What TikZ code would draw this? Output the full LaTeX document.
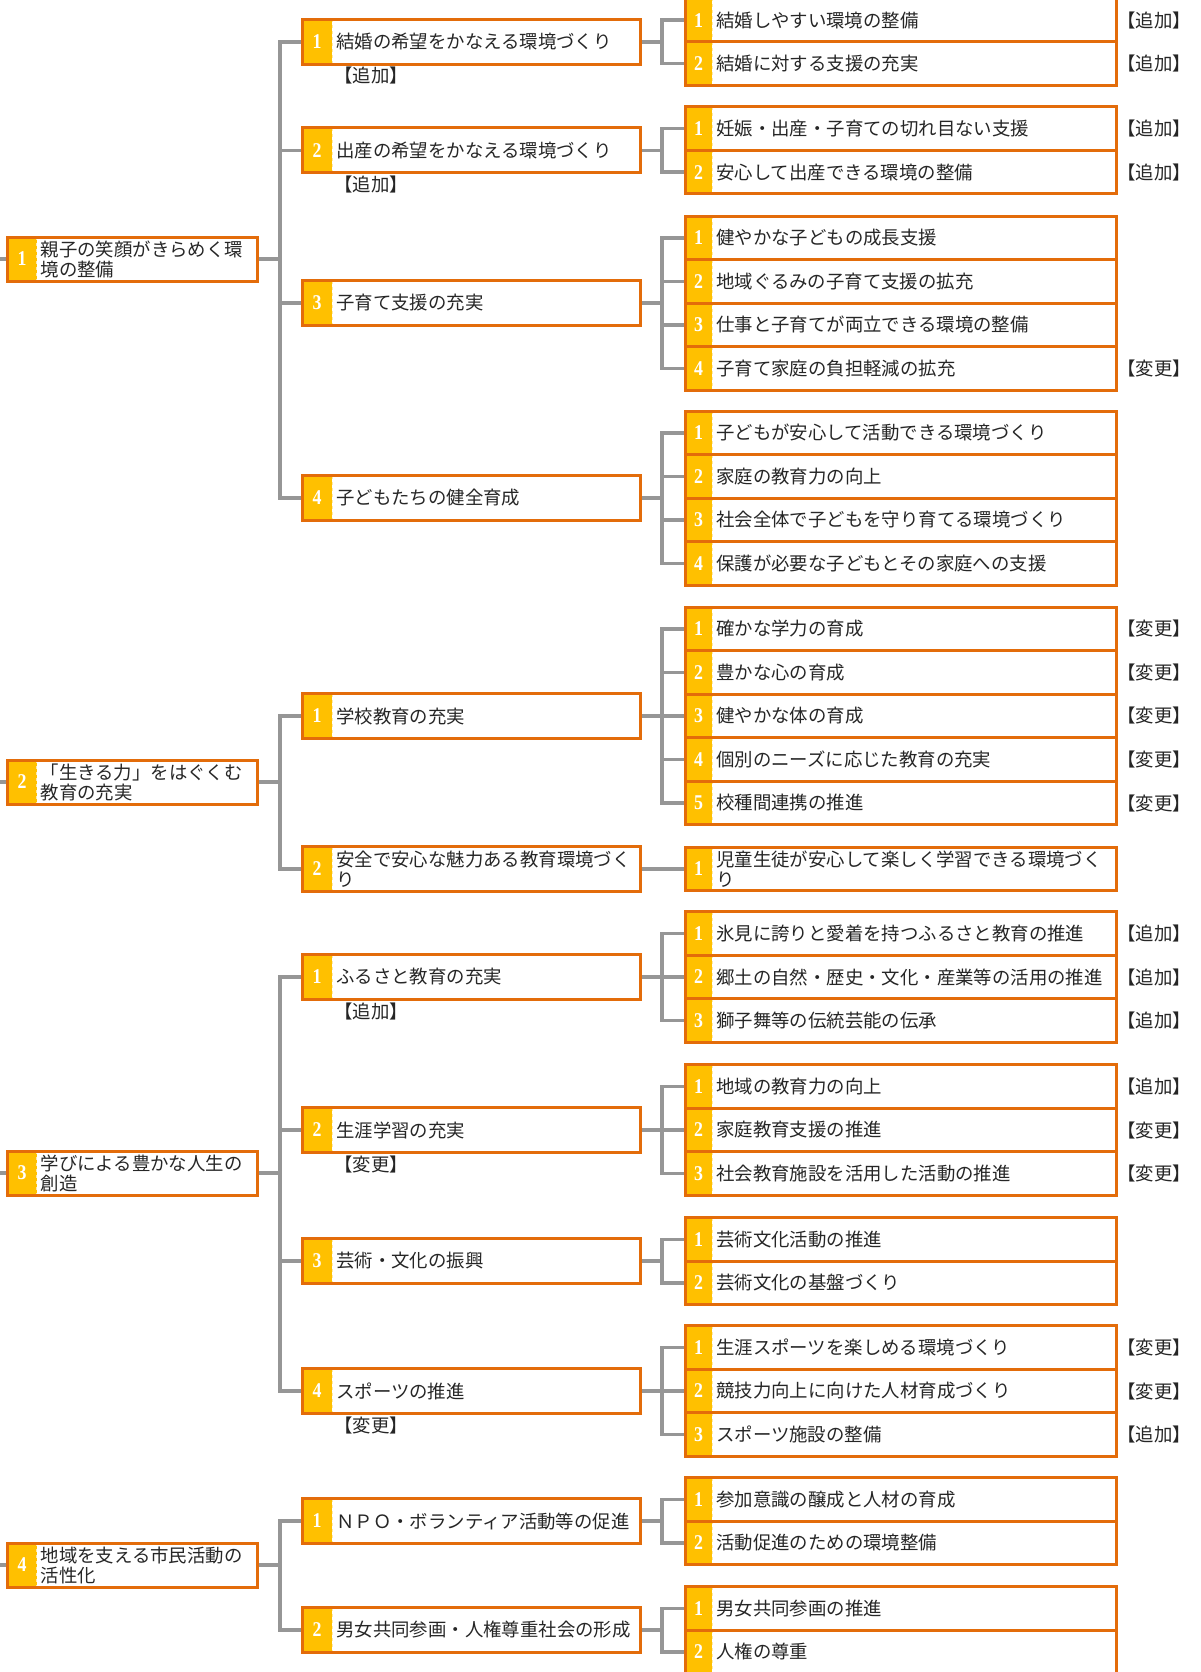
\documentclass[tikz,border=0pt]{standalone}
\usepackage{fontspec}
\setmainfont{Noto Sans CJK JP}
\newfontfamily\numf{Liberation Serif}
\usetikzlibrary{backgrounds}
\definecolor{goldC}{HTML}{FFC000}
\definecolor{orangeC}{HTML}{E36C0A}
\definecolor{grayC}{HTML}{969696}
\definecolor{txtC}{HTML}{262626}
\definecolor{divC}{HTML}{FFE9A8}
\tikzset{
  boxbg/.style={rectangle, fill=white, inner sep=0pt, outer sep=0pt},
  numcell/.style={rectangle, fill=goldC, inner sep=0pt, outer sep=0pt, text=white, font=\numf\bfseries\fontsize{21}{21}\selectfont},
  frame/.style={draw=orangeC, line width=3pt},
  divider/.style={draw=divC, line width=0.8pt, dashed},
  txt/.style={inner sep=0pt, align=left, text=txtC, font=\fontsize{18.4}{20}\selectfont},
  tagtxt/.style={inner sep=0pt, text=txtC, font=\fontsize{18.4}{20}\selectfont},
  conn/.style={draw=grayC, line width=3.5pt},
}
% name, xleft, width, ycenter, height, cellwidth, number, text
\newcommand\mkbox[8]{%
  \node[boxbg, minimum width=#3pt, minimum height=#5pt, anchor=west] (#1) at (#2,#4) {};
  \node[numcell, minimum width=#6pt, minimum height=#5pt, anchor=west] (#1n) at (#1.west) {\scalebox{0.85}[1]{#7}};
  \draw[divider] (#1n.north east) -- (#1n.south east);
  \node[txt, anchor=west] (#1t) at ([xshift=4pt]#1n.east) {#8};
  \draw[frame] (#1.north west) rectangle (#1.south east);
}
\newcommand\lvone[4]{\mkbox{#1}{7.5}{249.5}{#2}{44}{29}{#3}{#4}}
\newcommand\lvtwo[4]{\mkbox{#1}{302}{338}{#2}{45}{30}{#3}{#4}}
\newcommand\lvthree[4]{\mkbox{#1}{685}{431}{#2}{43.5}{27}{#3}{#4}}
\newcommand\tagtwo[3]{\node[tagtxt] (#1) at (371,#2) {#3};}
\newcommand\tagthree[3]{\node[tagtxt] (#1) at (1154,#2) {#3};}
\begin{document}
\begin{tikzpicture}[x=1pt, y=-1pt]
\useasboundingbox (0,0) rectangle (1200,1672);
\coordinate (T1) at (280,0);
\coordinate (T2) at (662,0);
% ---------- level 1 ----------
\lvone{A}{259}{1}{親子の笑顔がきらめく環\\境の整備}
\lvone{B}{782}{2}{「生きる力」をはぐくむ\\教育の充実}
\lvone{C}{1173}{3}{学びによる豊かな人生の\\創造}
\lvone{D}{1565}{4}{地域を支える市民活動の\\活性化}
\coordinate (SA) at (0,259);
\coordinate (SB) at (0,782);
\coordinate (SC) at (0,1173);
\coordinate (SD) at (0,1565);
% ---------- level 2 ----------
\lvtwo{A1}{42}{1}{結婚の希望をかなえる環境づくり}
\lvtwo{A2}{150.5}{2}{出産の希望をかなえる環境づくり}
\lvtwo{A3}{303}{3}{子育て支援の充実}
\lvtwo{A4}{498}{4}{子どもたちの健全育成}
\lvtwo{B1}{716}{1}{学校教育の充実}
\lvtwo{B2}{869}{2}{安全で安心な魅力ある教育環境づく\\り}
\lvtwo{C1}{977}{1}{ふるさと教育の充実}
\lvtwo{C2}{1130}{2}{生涯学習の充実}
\lvtwo{C3}{1261}{3}{芸術・文化の振興}
\lvtwo{C4}{1391}{4}{スポーツの推進}
\lvtwo{D1}{1521}{1}{ＮＰＯ・ボランティア活動等の促進}
\lvtwo{D2}{1630}{2}{男女共同参画・人権尊重社会の形成}
\tagtwo{A1g}{76}{【追加】}
\tagtwo{A2g}{184.5}{【追加】}
\tagtwo{C1g}{1011}{【追加】}
\tagtwo{C2g}{1164}{【変更】}
\tagtwo{C4g}{1425}{【変更】}
% ---------- level 3 ----------
\lvthree{A1a}{20.25}{1}{結婚しやすい環境の整備}
\lvthree{A1b}{63.75}{2}{結婚に対する支援の充実}
\lvthree{A2a}{128.75}{1}{妊娠・出産・子育ての切れ目ない支援}
\lvthree{A2b}{172.25}{2}{安心して出産できる環境の整備}
\lvthree{A3a}{237.75}{1}{健やかな子どもの成長支援}
\lvthree{A3b}{281.25}{2}{地域ぐるみの子育て支援の拡充}
\lvthree{A3c}{324.75}{3}{仕事と子育てが両立できる環境の整備}
\lvthree{A3d}{368.25}{4}{子育て家庭の負担軽減の拡充}
\lvthree{A4a}{432.75}{1}{子どもが安心して活動できる環境づくり}
\lvthree{A4b}{476.25}{2}{家庭の教育力の向上}
\lvthree{A4c}{519.75}{3}{社会全体で子どもを守り育てる環境づくり}
\lvthree{A4d}{563.25}{4}{保護が必要な子どもとその家庭への支援}
\lvthree{B1a}{629}{1}{確かな学力の育成}
\lvthree{B1b}{672.5}{2}{豊かな心の育成}
\lvthree{B1c}{716}{3}{健やかな体の育成}
\lvthree{B1d}{759.5}{4}{個別のニーズに応じた教育の充実}
\lvthree{B1e}{803}{5}{校種間連携の推進}
\lvthree{B2a}{869}{1}{児童生徒が安心して楽しく学習できる環境づく\\り}
\lvthree{C1a}{933.5}{1}{氷見に誇りと愛着を持つふるさと教育の推進}
\lvthree{C1b}{977}{2}{郷土の自然・歴史・文化・産業等の活用の推進}
\lvthree{C1c}{1020.5}{3}{獅子舞等の伝統芸能の伝承}
\lvthree{C2a}{1086.5}{1}{地域の教育力の向上}
\lvthree{C2b}{1130}{2}{家庭教育支援の推進}
\lvthree{C2c}{1173.5}{3}{社会教育施設を活用した活動の推進}
\lvthree{C3a}{1239.25}{1}{芸術文化活動の推進}
\lvthree{C3b}{1282.75}{2}{芸術文化の基盤づくり}
\lvthree{C4a}{1347.5}{1}{生涯スポーツを楽しめる環境づくり}
\lvthree{C4b}{1391}{2}{競技力向上に向けた人材育成づくり}
\lvthree{C4c}{1434.5}{3}{スポーツ施設の整備}
\lvthree{D1a}{1499.25}{1}{参加意識の醸成と人材の育成}
\lvthree{D1b}{1542.75}{2}{活動促進のための環境整備}
\lvthree{D2a}{1608.25}{1}{男女共同参画の推進}
\lvthree{D2b}{1651.75}{2}{人権の尊重}
% tags level 3
\tagthree{A1ag}{20.25}{【追加】}
\tagthree{A1bg}{63.75}{【追加】}
\tagthree{A2ag}{128.75}{【追加】}
\tagthree{A2bg}{172.25}{【追加】}
\tagthree{A3dg}{368.25}{【変更】}
\tagthree{B1ag}{629}{【変更】}
\tagthree{B1bg}{672.5}{【変更】}
\tagthree{B1cg}{716}{【変更】}
\tagthree{B1dg}{759.5}{【変更】}
\tagthree{B1eg}{803}{【変更】}
\tagthree{C1ag}{933.5}{【追加】}
\tagthree{C1bg}{977}{【追加】}
\tagthree{C1cg}{1020.5}{【追加】}
\tagthree{C2ag}{1086.5}{【追加】}
\tagthree{C2bg}{1130}{【変更】}
\tagthree{C2cg}{1173.5}{【変更】}
\tagthree{C4ag}{1347.5}{【変更】}
\tagthree{C4bg}{1391}{【変更】}
\tagthree{C4cg}{1434.5}{【追加】}
% ---------- connectors (behind boxes) ----------
\begin{pgfonlayer}{background}
\fill[white] (0,0) rectangle (1200,1672);
\foreach \s/\p in {SA/A,SB/B,SC/C,SD/D}{\draw[conn] (\s) -- (\p.west);}
\foreach \p/\c in {A/A1,A/A2,A/A3,A/A4,B/B1,B/B2,C/C1,C/C2,C/C3,C/C4,D/D1,D/D2}{
  \draw[conn] (\p.east) -- (\p.east -| T1) |- (\c.west);}
\foreach \p/\c in {A1/A1a,A1/A1b,A2/A2a,A2/A2b,A3/A3a,A3/A3b,A3/A3c,A3/A3d,
  A4/A4a,A4/A4b,A4/A4c,A4/A4d,B1/B1a,B1/B1b,B1/B1c,B1/B1d,B1/B1e,B2/B2a,
  C1/C1a,C1/C1b,C1/C1c,C2/C2a,C2/C2b,C2/C2c,C3/C3a,C3/C3b,C4/C4a,C4/C4b,C4/C4c,
  D1/D1a,D1/D1b,D2/D2a,D2/D2b}{
  \draw[conn] (\p.east) -- (\p.east -| T2) |- (\c.west);}
\end{pgfonlayer}
\end{tikzpicture}
\end{document}
